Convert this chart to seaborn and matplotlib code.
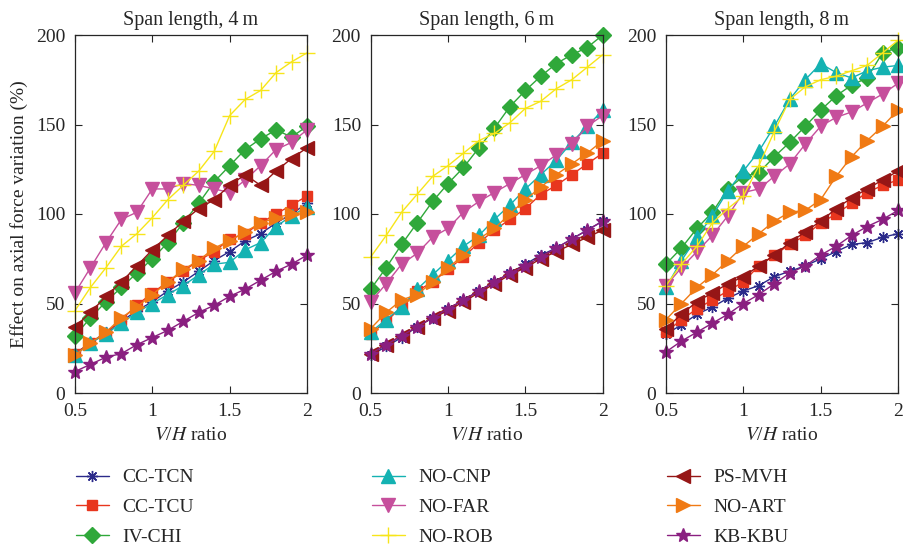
import matplotlib
matplotlib.use("Agg")
import matplotlib.pyplot as plt
import seaborn as sns
import pandas as pd

ratio = [0.5, 0.6, 0.7, 0.8, 0.9, 1.0, 1.1, 1.2, 1.3, 1.4, 1.5, 1.6, 1.7, 1.8, 1.9, 2.0]

names = ["CC-TCN", "CC-TCU", "IV-CHI", "NO-CNP", "NO-FAR", "NO-ROB", "PS-MVH", "NO-ART", "KB-KBU"]
spans = ["Span length, 4\u2009m", "Span length, 6\u2009m", "Span length, 8\u2009m"]

# span length 4 m
cc_tcn_4 = [22, 28, 34, 40, 46, 51, 57, 62, 68, 74, 79, 85, 89, 95, 100, 106]
cc_tcu_4 = [22, 28, 33, 41, 49, 56, 62, 68, 74, 79, 86, 89, 95, 100, 105, 110]
iv_chi_4 = [32, 42, 51, 59, 67, 75, 84, 95, 106, 118, 127, 136, 142, 147, 143, 149]
no_cnp_4 = [21, 28, 33, 39, 45, 50, 55, 60, 66, 72, 73, 80, 84, 93, 99, 104]
no_far_4 = [56, 70, 84, 97, 101, 114, 114, 117, 116, 114, 112, 119, 127, 136, 140, 147]
no_rob_4 = [46, 59, 70, 82, 89, 98, 108, 116, 124, 135, 155, 164, 169, 179, 185, 190]
ps_mvh_4 = [37, 45, 54, 62, 71, 80, 88, 96, 103, 108, 116, 122, 116, 124, 131, 137]
no_art_4 = [21, 28, 34, 42, 48, 55, 62, 69, 74, 81, 85, 90, 95, 98, 100, 101]
kb_kbu_4 = [12, 16, 20, 22, 27, 31, 35, 40, 45, 49, 54, 58, 63, 68, 72, 77]

# span length 6 m
cc_tcn_6 = [21, 26, 31, 37, 42, 47, 52, 57, 62, 67, 72, 77, 81, 86, 91, 96]
cc_tcu_6 = [33, 40, 48, 57, 62, 69, 76, 84, 91, 97, 103, 111, 116, 122, 128, 134]
iv_chi_6 = [58, 70, 83, 95, 107, 117, 126, 137, 148, 160, 169, 177, 184, 189, 193, 200]
no_cnp_6 = [34, 41, 48, 58, 66, 74, 82, 88, 97, 105, 114, 122, 130, 140, 149, 158]
no_far_6 = [51, 61, 72, 78, 87, 92, 101, 107, 112, 117, 122, 127, 133, 139, 149, 155]
no_rob_6 = [76, 88, 101, 111, 121, 127, 134, 141, 145, 151, 159, 163, 170, 175, 182, 189]
ps_mvh_6 = [22, 27, 32, 37, 42, 46, 51, 56, 61, 66, 70, 75, 79, 83, 87, 91]
no_art_6 = [36, 45, 52, 55, 62, 70, 77, 86, 92, 100, 108, 115, 122, 128, 134, 141]
kb_kbu_6 = [22, 27, 32, 37, 42, 47, 52, 57, 62, 67, 71, 76, 81, 86, 91, 96]

# span length 8 m
cc_tcn_8 = [33, 38, 44, 48, 53, 57, 60, 65, 68, 71, 75, 79, 83, 84, 87, 89]
cc_tcu_8 = [34, 41, 47, 52, 57, 62, 71, 77, 83, 88, 95, 100, 106, 112, 116, 119]
iv_chi_8 = [72, 81, 92, 101, 114, 121, 123, 132, 140, 149, 158, 166, 172, 176, 190, 193]
no_cnp_8 = [59, 74, 87, 99, 113, 124, 135, 149, 164, 175, 184, 179, 176, 180, 182, 183]
no_far_8 = [60, 70, 79, 88, 99, 112, 114, 121, 128, 139, 149, 154, 157, 162, 167, 173]
no_rob_8 = [60, 72, 82, 95, 103, 110, 127, 146, 164, 171, 175, 177, 180, 183, 190, 197]
ps_mvh_8 = [36, 44, 51, 56, 61, 65, 71, 77, 84, 90, 96, 103, 109, 114, 119, 124]
no_art_8 = [41, 50, 59, 66, 74, 82, 89, 96, 101, 102, 108, 121, 132, 141, 149, 158]
kb_kbu_8 = [23, 29, 34, 39, 44, 50, 55, 61, 67, 71, 77, 82, 88, 93, 97, 102]

panels = [
    [cc_tcn_4, cc_tcu_4, iv_chi_4, no_cnp_4, no_far_4, no_rob_4, ps_mvh_4, no_art_4, kb_kbu_4],
    [cc_tcn_6, cc_tcu_6, iv_chi_6, no_cnp_6, no_far_6, no_rob_6, ps_mvh_6, no_art_6, kb_kbu_6],
    [cc_tcn_8, cc_tcu_8, iv_chi_8, no_cnp_8, no_far_8, no_rob_8, ps_mvh_8, no_art_8, kb_kbu_8],
]

colors = ["#2b2a8a", "#e8361e", "#2fa83a", "#14b2b2", "#c64f9c", "#f7e51a", "#961616", "#f07a14", "#8a1f80"]
markers = [(8, 2, 0), "s", "D", "^", "v", "+", "<", ">", "*"]
msizes = [8, 7, 8, 10, 10, 11, 10, 10, 10]

sns.set_style("ticks")
plt.rcParams["font.family"] = ["Liberation Serif", "DejaVu Serif"]
plt.rcParams["mathtext.fontset"] = "stix"
plt.rcParams["xtick.direction"] = "in"
plt.rcParams["ytick.direction"] = "in"
plt.rcParams["xtick.top"] = True
plt.rcParams["ytick.right"] = True

fig = plt.figure(figsize=(9.04, 5.49), dpi=100)
lefts = [75, 370.7, 666]
axes = [fig.add_axes([l / 904, 1 - 393 / 549, 232 / 904, 358 / 549]) for l in lefts]

for ax, series, title in zip(axes, panels, spans):
    for vals, c, m, ms, name in zip(series, colors, markers, msizes, names):
        df = pd.DataFrame({"ratio": ratio, "value": vals})
        sns.lineplot(data=df, x="ratio", y="value", ax=ax, color=c, marker=m,
                     markersize=ms, markeredgecolor=c, markeredgewidth=1.0,
                     linewidth=1.0, clip_on=False, legend=False, errorbar=None)
    ax.set_xlim(0.5, 2)
    ax.set_ylim(0, 200)
    ax.set_xticks([0.5, 1, 1.5, 2])
    ax.set_xticklabels(["0.5", "1", "1.5", "2"])
    ax.set_yticks([0, 50, 100, 150, 200])
    ax.tick_params(axis="x", labelsize=14, length=5, width=0.8, pad=7)
    ax.tick_params(axis="y", labelsize=14, length=5, width=0.8, pad=7)
    ax.set_title(title, fontsize=14.5, pad=7)
    ax.set_xlabel(r"$\mathit{V}$/$\mathit{H}$ ratio", fontsize=14, labelpad=5)
    ax.set_ylabel("")
    for s in ax.spines.values():
        s.set_linewidth(0.9)
        s.set_visible(True)

axes[0].set_ylabel("Effect on axial force variation (%)", fontsize=14, labelpad=6)

handles = axes[0].get_lines()
for k, ax in enumerate(axes):
    idx = range(3 * k, 3 * k + 3)
    ax.legend([handles[i] for i in idx], [names[i] for i in idx],
              loc="upper left", bbox_to_anchor=(-0.03, -0.19), frameon=False,
              fontsize=14, handlelength=1.7, handletextpad=0.7, labelspacing=0.62,
              borderaxespad=0)

fig.savefig("out.png", dpi=100)
